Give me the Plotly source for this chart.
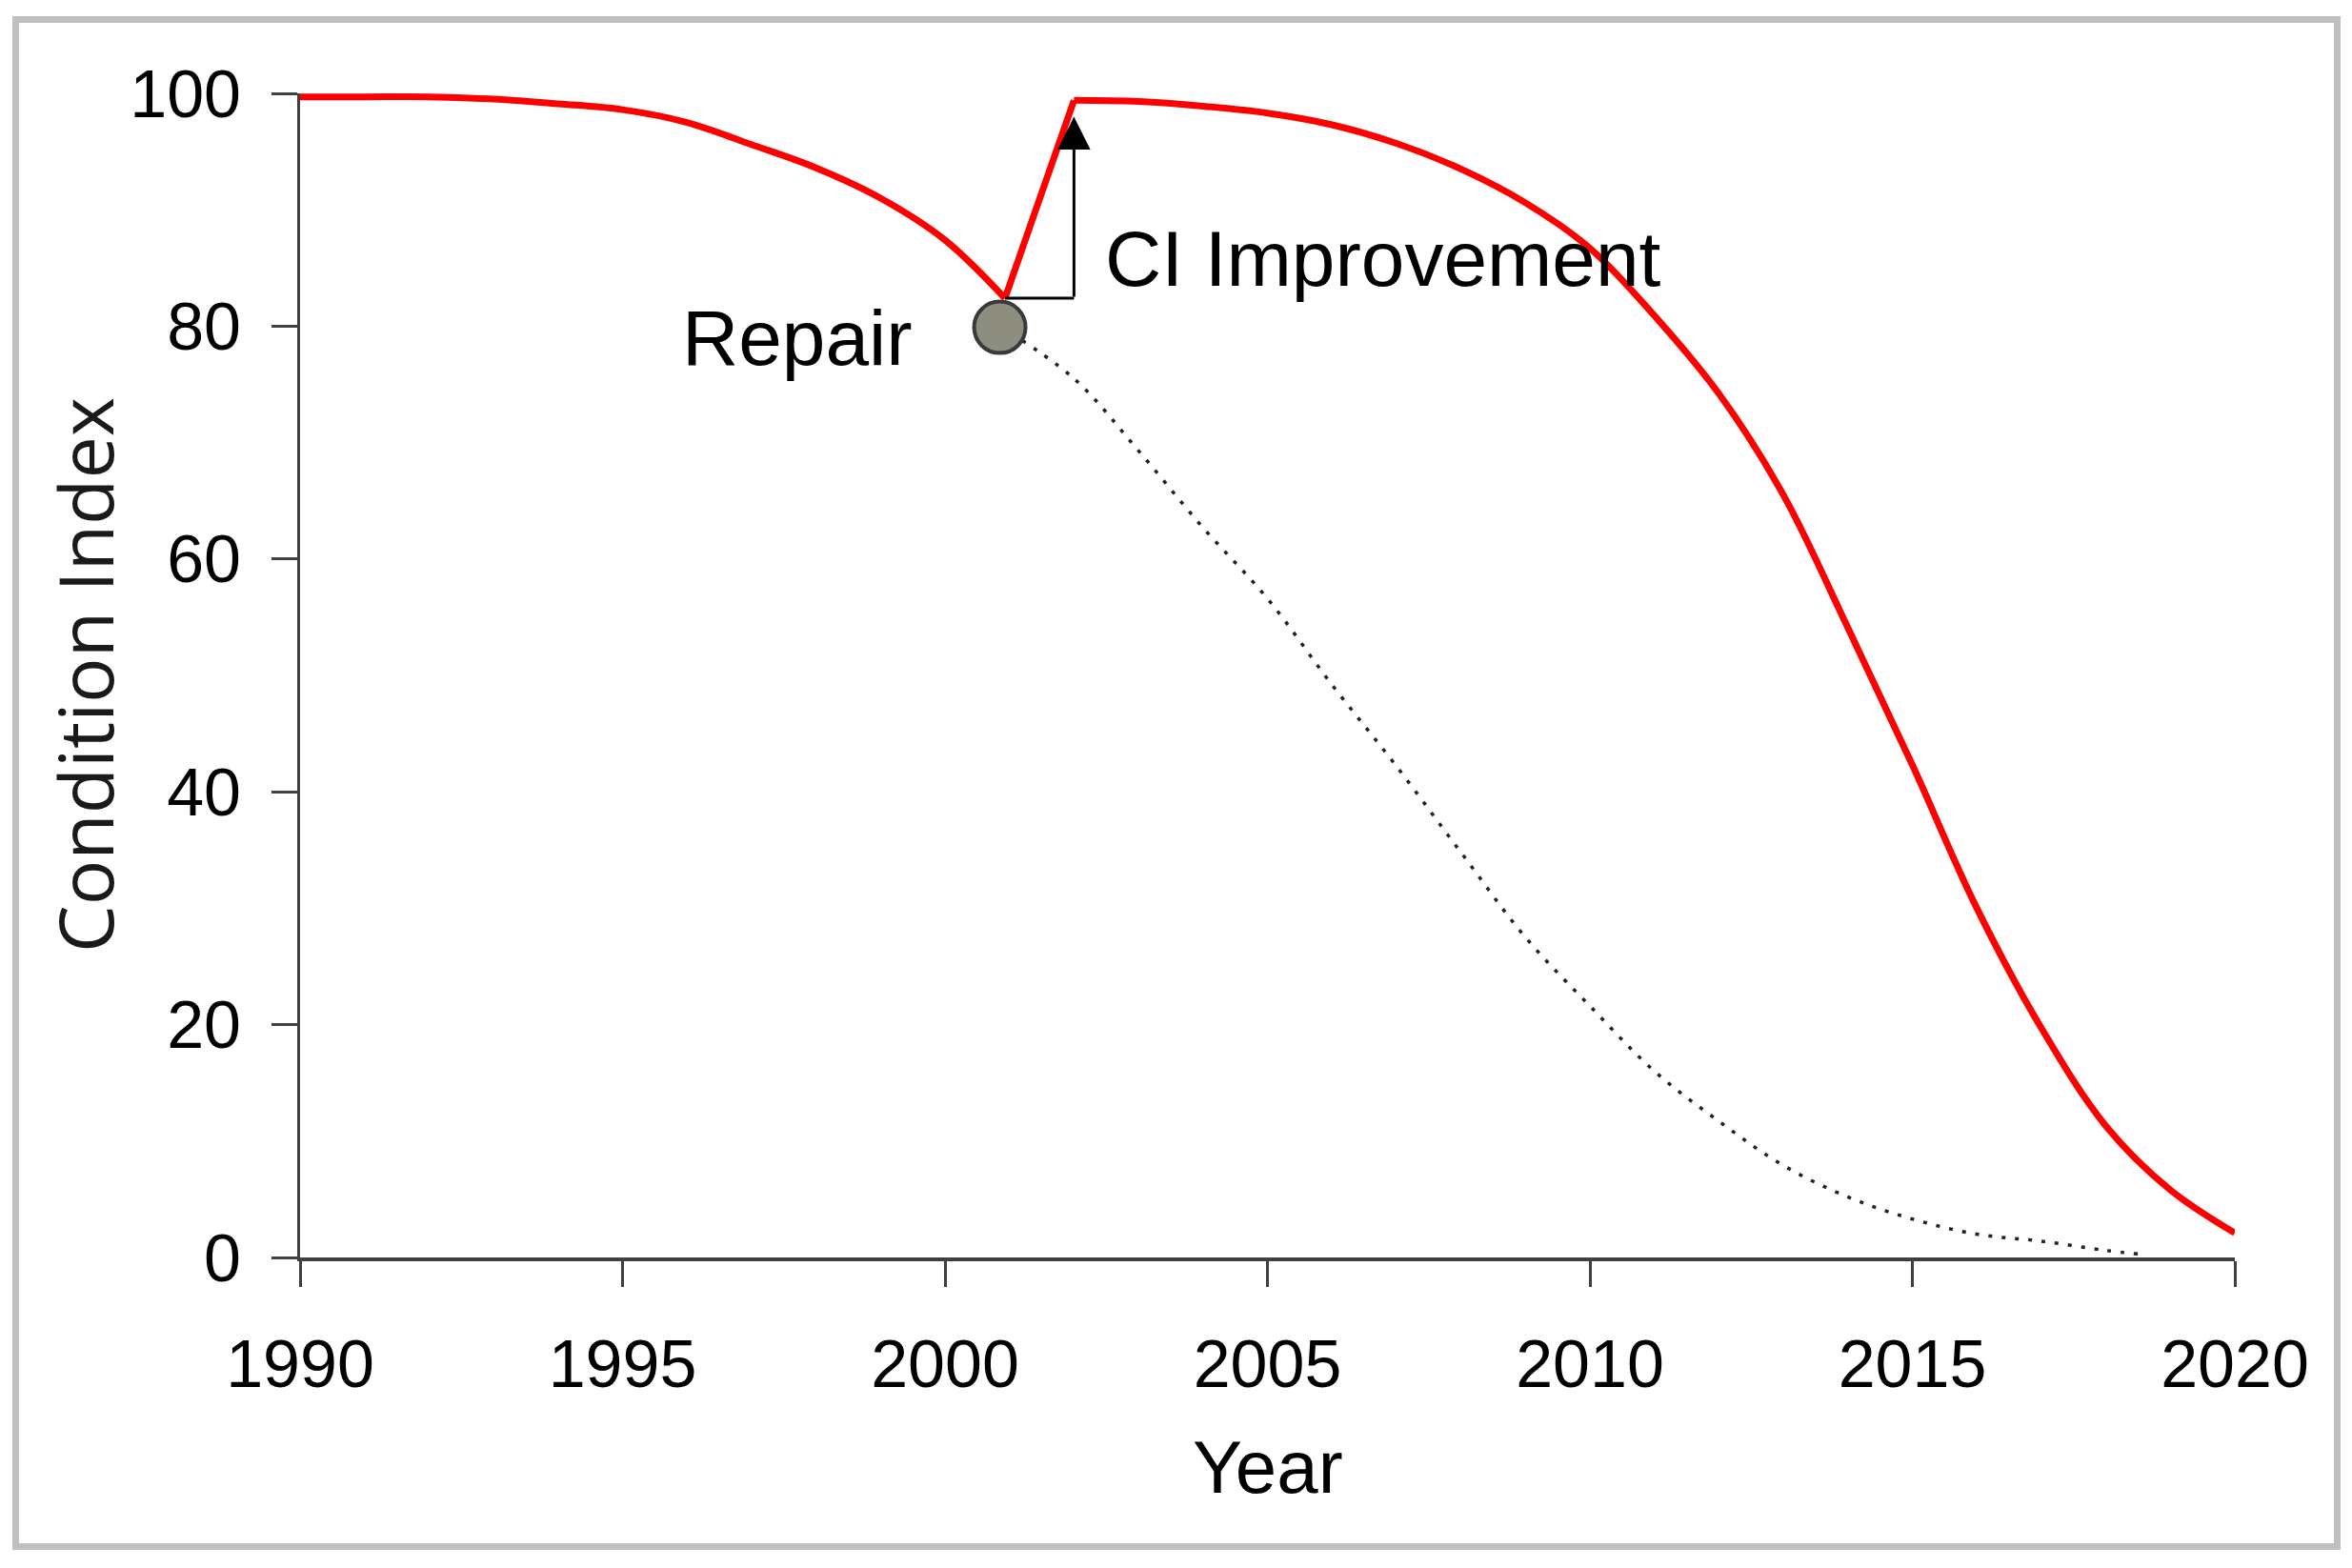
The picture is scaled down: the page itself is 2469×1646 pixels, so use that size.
import plotly.graph_objects as go

# ---------------- data ----------------
# Red curve: condition index with repair (deterioration, repair jump, new deterioration)
red_years = [1990, 1991, 1992, 1993, 1994, 1995, 1996, 1997, 1998, 1999, 2000, 2000.93,
             2002, 2003, 2004, 2005, 2006, 2007, 2008, 2009, 2010, 2011, 2012, 2013,
             2014, 2015, 2016, 2017, 2018, 2019, 2020]
red_ci = [99.7, 99.7, 99.7, 99.5, 99.1, 98.6, 97.5, 95.6, 93.6, 91.0, 87.4, 82.4,
          99.4, 99.3, 98.9, 98.3, 97.3, 95.7, 93.5, 90.6, 86.7, 80.9, 74.2, 65.5,
          54.1, 42.3, 30.0, 19.7, 11.3, 5.8, 2.1]
repair_index = 11          # position of the repair point in red_years
peak_index = 12            # position of the post-repair peak

# Dotted curve: deterioration without repair
dot_years = [2000.85, 2002, 2003, 2004, 2005, 2006, 2007, 2008, 2009, 2010,
             2011, 2012, 2013, 2014, 2015, 2016, 2017, 2018, 2018.5]
dot_ci = [80.0, 75.5, 69.3, 62.7, 56.6, 49.2, 42.2, 34.8, 27.5, 21.6,
          16.0, 11.7, 7.9, 5.2, 3.3, 2.0, 1.4, 0.6, 0.3]

# Repair marker
repair_year = [2000.85]
repair_value = [79.9]
arrow_tip_value = 98.0

x_ticks = [1990, 1995, 2000, 2005, 2010, 2015, 2020]
y_ticks = [0, 20, 40, 60, 80, 100]

# ---------------- layout constants (pixels) ----------------
W, H = 2469, 1646
ML, MR, MT, MB = 315, 123, 98, 326
PW, PH = W - ML - MR, H - MT - MB


def px_x(px):
    return (px - ML) / PW


def px_y(py):
    return (H - MB - py) / PH


RED = "#ff0000"
AX = "#404040"
TICK_FONT = dict(family="Liberation Sans, Arial, sans-serif", size=70, color="#000000")

fig = go.Figure()

# dotted no-repair curve
fig.add_trace(go.Scatter(
    x=dot_years, y=dot_ci, mode="lines",
    line=dict(color="#222222", width=3.5, dash="4px,10px", shape="spline", smoothing=1.0),
    hoverinfo="skip", showlegend=False))

# repair marker
fig.add_trace(go.Scatter(
    x=repair_year, y=repair_value, mode="markers",
    marker=dict(size=54, color="#8e8e80", line=dict(color="#3a3a3a", width=4)),
    hoverinfo="skip", showlegend=False, cliponaxis=False))

# red curve split: before repair, jump, after repair
fig.add_trace(go.Scatter(
    x=red_years[:repair_index + 1], y=red_ci[:repair_index + 1], mode="lines",
    line=dict(color=RED, width=7, shape="spline", smoothing=1.0),
    hoverinfo="skip", showlegend=False))
fig.add_trace(go.Scatter(
    x=red_years[repair_index:peak_index + 1], y=red_ci[repair_index:peak_index + 1], mode="lines",
    line=dict(color=RED, width=7),
    hoverinfo="skip", showlegend=False))
fig.add_trace(go.Scatter(
    x=red_years[peak_index:], y=red_ci[peak_index:], mode="lines",
    line=dict(color=RED, width=7, shape="spline", smoothing=1.0),
    hoverinfo="skip", showlegend=False))

# horizontal connector of the CI improvement arrow
fig.add_shape(type="line", xref="x", yref="y",
              x0=red_years[repair_index], x1=red_years[peak_index],
              y0=red_ci[repair_index], y1=red_ci[repair_index],
              line=dict(color="#000000", width=3), layer="above")

annotations = [
    # vertical arrow
    dict(x=red_years[peak_index], y=arrow_tip_value, xref="x", yref="y",
         ax=red_years[peak_index], ay=red_ci[repair_index], axref="x", ayref="y",
         showarrow=True, arrowhead=2, arrowsize=2.3, arrowwidth=3, arrowcolor="#000000",
         text=""),
    dict(x=2002.45, y=85.8, xref="x", yref="y", text="CI Improvement",
         showarrow=False, xanchor="left", yanchor="middle",
         font=dict(family="Liberation Sans, Arial, sans-serif", size=82, color="#000000")),
    dict(x=1995.9, y=79.0, xref="x", yref="y", text="Repair",
         showarrow=False, xanchor="left", yanchor="middle",
         font=dict(family="Liberation Sans, Arial, sans-serif", size=82, color="#000000")),
    # axis titles
    dict(x=0.5, y=px_y(1540), xref="paper", yref="paper", text="Year",
         showarrow=False, xanchor="center", yanchor="middle",
         font=dict(family="Liberation Sans, Arial, sans-serif", size=78, color="#000000")),
    dict(x=px_x(88), y=0.5, xref="paper", yref="paper", text="Condition Index",
         showarrow=False, xanchor="center", yanchor="middle", textangle=-90,
         font=dict(family="Open Sans, sans-serif", size=79, color="#1a1a1a")),
]

# outer frame
fig.add_shape(type="rect", xref="paper", yref="paper",
              x0=px_x(16.5), x1=px_x(2453.5), y0=px_y(1623.5), y1=px_y(20.5),
              line=dict(color="#bfbfbf", width=7), layer="below")

fig.update_layout(
    width=W, height=H,
    margin=dict(l=ML, r=MR, t=MT, b=MB, pad=0),
    paper_bgcolor="white", plot_bgcolor="white",
    annotations=annotations,
    xaxis=dict(range=[1990, 2020], tickvals=x_ticks, ticktext=[str(v) for v in x_ticks],
               showgrid=False, zeroline=False, showline=True, linecolor=AX, linewidth=4,
               ticks="outside", ticklen=27, tickwidth=3, tickcolor=AX,
               tickfont=TICK_FONT, ticklabelstandoff=21),
    yaxis=dict(range=[0, 100], tickvals=y_ticks, ticktext=[str(v) for v in y_ticks],
               showgrid=False, zeroline=False, showline=True, linecolor=AX, linewidth=3,
               ticks="outside", ticklen=27, tickwidth=3, tickcolor=AX,
               tickfont=TICK_FONT, ticklabelstandoff=18),
)

fig.write_html("out.html", config={"displayModeBar": False},
               post_script="document.body.style.margin='0px';document.body.style.overflow='hidden';")
